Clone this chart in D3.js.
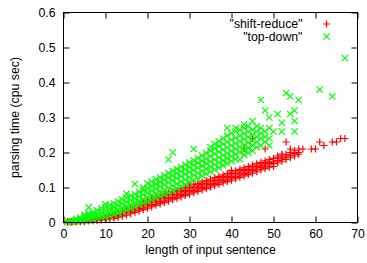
<!DOCTYPE html>
<html>
<head>
<meta charset="utf-8">
<script src="https://cdn.jsdelivr.net/npm/d3@7"></script>
<style>
body { margin: 0; background: #fff; }
text { font-family: "Liberation Sans", Arial, sans-serif; font-size: 12.3px; fill: #000; }
</style>
</head>
<body>
<div id="graphicContainer"></div>
<script>
// sentence length -> parsing times (cpu sec)
var shiftReduce = [
  [1, [0.001, 0.002]], [2, [0.001, 0.003]], [3, [0.002, 0.004]], [4, [0.002, 0.004, 0.006]],
  [5, [0.003, 0.005, 0.007]], [6, [0.004, 0.006, 0.009]], [7, [0.005, 0.008, 0.011]],
  [8, [0.006, 0.009, 0.013]], [9, [0.007, 0.011, 0.015]], [10, [0.008, 0.012, 0.017]],
  [11, [0.010, 0.015, 0.020]], [12, [0.012, 0.017, 0.023]], [13, [0.015, 0.020, 0.027]],
  [14, [0.018, 0.024, 0.031]], [15, [0.021, 0.028, 0.035]], [16, [0.025, 0.032, 0.039]],
  [17, [0.029, 0.036, 0.043]], [18, [0.033, 0.040, 0.048]], [19, [0.037, 0.044, 0.052, 0.058]],
  [20, [0.041, 0.048, 0.056, 0.063]], [21, [0.045, 0.052, 0.060, 0.067]], [22, [0.049, 0.056, 0.064, 0.071]],
  [23, [0.053, 0.060, 0.068, 0.076]], [24, [0.057, 0.064, 0.072, 0.080]], [25, [0.061, 0.068, 0.076, 0.084]],
  [26, [0.065, 0.072, 0.080, 0.088]], [27, [0.069, 0.076, 0.084, 0.092]], [28, [0.073, 0.080, 0.088, 0.096]],
  [29, [0.077, 0.084, 0.092, 0.100]], [30, [0.081, 0.088, 0.096, 0.104, 0.110]], [31, [0.085, 0.092, 0.100, 0.108]],
  [32, [0.089, 0.096, 0.104, 0.112]], [33, [0.093, 0.100, 0.108, 0.116]], [34, [0.097, 0.104, 0.112, 0.120]],
  [35, [0.101, 0.108, 0.116, 0.124]], [36, [0.105, 0.112, 0.120, 0.128]], [37, [0.109, 0.116, 0.124, 0.132]],
  [38, [0.113, 0.120, 0.128, 0.136]], [39, [0.117, 0.124, 0.132, 0.140]], [40, [0.121, 0.128, 0.136, 0.144, 0.149]],
  [41, [0.125, 0.132, 0.140, 0.148]], [42, [0.129, 0.136, 0.144, 0.152]], [43, [0.133, 0.140, 0.148, 0.156, 0.21]],
  [44, [0.137, 0.144, 0.152, 0.160]], [45, [0.141, 0.148, 0.156, 0.164, 0.24]], [46, [0.145, 0.152, 0.160, 0.168]],
  [47, [0.150, 0.157, 0.164, 0.172]], [48, [0.154, 0.161, 0.168, 0.176, 0.21]], [49, [0.158, 0.165, 0.172, 0.180]],
  [50, [0.160, 0.168, 0.175, 0.183]], [51, [0.170, 0.177, 0.185, 0.190]], [52, [0.175, 0.182, 0.190, 0.195]],
  [53, [0.180, 0.187, 0.195, 0.23]], [54, [0.185, 0.192, 0.200, 0.21]], [55, [0.190, 0.197, 0.205]],
  [56, [0.195, 0.200, 0.21]], [57, [0.21]], [59, [0.21]], [60, [0.21]], [61, [0.23]], [62, [0.22]],
  [64, [0.23]], [65, [0.23]], [66, [0.24]], [67, [0.24]]
];

var topDown = [
  [1, [0.001, 0.003]], [2, [0.002, 0.005]], [3, [0.003, 0.007, 0.010]], [4, [0.004, 0.009, 0.014]],
  [5, [0.005, 0.011, 0.017, 0.022]], [6, [0.007, 0.013, 0.020, 0.026, 0.043]], [7, [0.009, 0.016, 0.023, 0.030]],
  [8, [0.011, 0.019, 0.027, 0.035]], [9, [0.014, 0.022, 0.031, 0.040]], [10, [0.016, 0.025, 0.035, 0.045, 0.052]],
  [11, [0.019, 0.029, 0.039, 0.050]], [12, [0.023, 0.033, 0.044, 0.055]], [13, [0.027, 0.037, 0.049, 0.060]],
  [14, [0.031, 0.042, 0.054, 0.066]], [15, [0.035, 0.047, 0.059, 0.071, 0.082]], [16, [0.040, 0.052, 0.064, 0.076]],
  [17, [0.045, 0.057, 0.069, 0.081, 0.11]], [18, [0.050, 0.062, 0.074, 0.087]], [19, [0.055, 0.067, 0.080, 0.093, 0.100]],
  [20, [0.060, 0.072, 0.085, 0.098, 0.112]], [21, [0.065, 0.078, 0.091, 0.104, 0.117]],
  [22, [0.070, 0.083, 0.097, 0.110, 0.123]], [23, [0.075, 0.089, 0.103, 0.116, 0.129]],
  [24, [0.080, 0.094, 0.108, 0.122, 0.135]], [25, [0.085, 0.099, 0.114, 0.128, 0.141, 0.18]],
  [26, [0.091, 0.105, 0.120, 0.134, 0.147, 0.20]], [27, [0.097, 0.111, 0.126, 0.140, 0.153]],
  [28, [0.103, 0.117, 0.132, 0.146, 0.159]], [29, [0.109, 0.123, 0.138, 0.152, 0.165]],
  [30, [0.115, 0.129, 0.144, 0.158, 0.171]], [31, [0.121, 0.135, 0.150, 0.164, 0.177, 0.21]],
  [32, [0.127, 0.141, 0.156, 0.170, 0.184]], [33, [0.133, 0.147, 0.162, 0.176, 0.191]],
  [34, [0.139, 0.153, 0.168, 0.182, 0.198]], [35, [0.145, 0.159, 0.174, 0.189, 0.205, 0.215]],
  [36, [0.151, 0.165, 0.180, 0.196, 0.212, 0.224]], [37, [0.157, 0.171, 0.186, 0.202, 0.218, 0.232]],
  [38, [0.163, 0.177, 0.192, 0.208, 0.224, 0.240]], [39, [0.169, 0.183, 0.198, 0.214, 0.230, 0.248, 0.27]],
  [40, [0.175, 0.189, 0.204, 0.220, 0.236, 0.255]], [41, [0.181, 0.195, 0.210, 0.226, 0.242, 0.26, 0.27]],
  [42, [0.18, 0.201, 0.216, 0.232, 0.248, 0.265]], [43, [0.193, 0.207, 0.222, 0.238, 0.254, 0.27, 0.28]],
  [44, [0.199, 0.213, 0.228, 0.244, 0.26, 0.275]], [45, [0.205, 0.22, 0.235, 0.25, 0.265, 0.29]],
  [46, [0.215, 0.23, 0.245, 0.26, 0.275]], [47, [0.22, 0.24, 0.255, 0.27, 0.35]],
  [48, [0.23, 0.245, 0.26, 0.32]], [49, [0.22, 0.24, 0.27, 0.30]], [50, [0.26]], [51, [0.31]],
  [52, [0.285, 0.26]], [53, [0.37]], [54, [0.36, 0.31]], [55, [0.32, 0.29, 0.26]], [56, [0.35]],
  [61, [0.38]], [64, [0.36]], [67, [0.47]]
];

var seriesNames = ['"shift-reduce"', '"top-down"'];
var seriesColors = ["#ff0000", "#00ff00"];
var xTicks = [0, 10, 20, 30, 40, 50, 60, 70];
var yTicks = [0, 0.1, 0.2, 0.3, 0.4, 0.5, 0.6];

var target = "#graphicContainer";
var width = 367, height = 263;
var margin = {top: 12.5, right: 9.5, bottom: 40.5, left: 63.5};
var w = width - margin.left - margin.right;
var h = height - margin.top - margin.bottom;

function flatten(rows) {
  var out = [];
  rows.forEach(r => r[1].forEach(t => out.push({len: r[0], time: t})));
  return out;
}

var plus = "M-3.5,0H3.5M0,-3.5V3.5";
var cross = "M-3.2,-3.2L3.2,3.2M-3.2,3.2L3.2,-3.2";
var shapes = [plus, cross];

var svg = d3.select(target).append("svg")
  .attr("width", width)
  .attr("height", height);

var g = svg.append("g")
  .attr("transform", "translate(" + margin.left + "," + margin.top + ")");

var x = d3.scaleLinear().domain([0, 70]).range([0, w]);
var y = d3.scaleLinear().domain([0, 0.6]).range([h, 0]);

// axes with inward ticks, mirrored on top and right
g.append("g")
  .attr("transform", "translate(0," + h + ")")
  .call(d3.axisBottom(x).tickValues(xTicks).tickFormat(d3.format("d")).tickSizeInner(-6).tickSizeOuter(0).tickPadding(7));
g.append("g")
  .call(d3.axisTop(x).tickValues(xTicks).tickFormat("").tickSizeInner(-6).tickSizeOuter(0));
g.append("g")
  .call(d3.axisLeft(y).tickValues(yTicks).tickFormat(d => d === 0 ? "0" : d3.format(".1f")(d)).tickSizeInner(-6).tickSizeOuter(0).tickPadding(8));
g.append("g")
  .attr("transform", "translate(" + w + ",0)")
  .call(d3.axisRight(y).tickValues(yTicks).tickFormat("").tickSizeInner(-6).tickSizeOuter(0));

g.selectAll(".domain").remove();
g.selectAll(".tick line").attr("stroke", "#000");
g.selectAll(".tick text").attr("font-size", null).attr("font-family", null).attr("fill", "#000");

// points
[shiftReduce, topDown].forEach((rows, i) => {
  g.append("g").selectAll("path")
    .data(flatten(rows))
    .enter()
    .append("path")
      .attr("d", shapes[i])
      .attr("transform", d => "translate(" + x(d.len) + "," + y(d.time) + ")")
      .attr("fill", "none")
      .attr("stroke", seriesColors[i])
      .attr("stroke-width", 1.2);
});

// border
g.append("rect")
  .attr("width", w)
  .attr("height", h)
  .attr("fill", "none")
  .attr("stroke", "#000")
  .attr("stroke-width", 1);

// legend
seriesNames.forEach((name, i) => {
  var ly = 11.5 + i * 12.5;
  g.append("text")
    .attr("x", 239)
    .attr("y", ly)
    .attr("dy", "0.35em")
    .attr("text-anchor", "end")
    .text(name);
  g.append("path")
    .attr("d", shapes[i])
    .attr("transform", "translate(263," + ly + ")")
    .attr("fill", "none")
    .attr("stroke", seriesColors[i])
    .attr("stroke-width", 1.2);
});

// axis titles
svg.append("text")
  .attr("x", margin.left + w / 2)
  .attr("y", 254)
  .attr("text-anchor", "middle")
  .text("length of input sentence");

svg.append("text")
  .attr("transform", "translate(19," + (margin.top + h / 2) + ") rotate(-90)")
  .attr("text-anchor", "middle")
  .text("parsing time (cpu sec)");
</script>
</body>
</html>
